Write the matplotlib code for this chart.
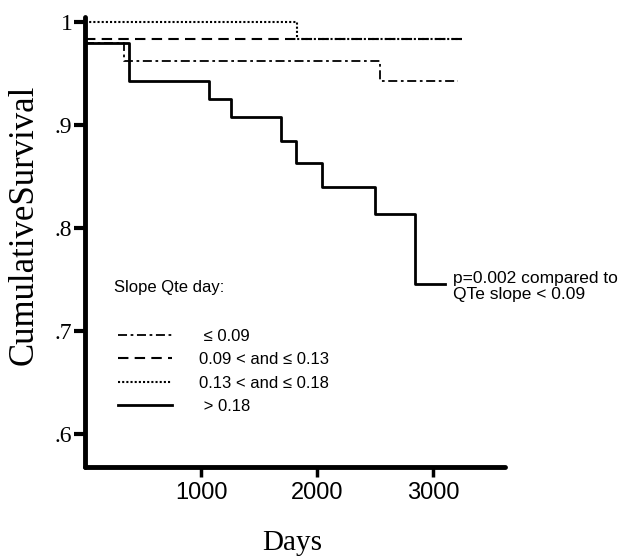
import numpy as np
import matplotlib
matplotlib.use("Agg")
import matplotlib.pyplot as plt

# Kaplan-Meier step data (days, cumulative survival)
t_le009 = [0, 339, 2545, 3215]
s_le009 = [0.980, 0.962, 0.943, 0.943]
t_009_013 = [0, 3249]
s_009_013 = [0.984, 0.984]
t_013_018 = [0, 1824, 3249]
s_013_018 = [1.0, 0.984, 0.984]
t_gt018 = [0, 382, 1069, 1258, 1687, 1815, 2047, 2502, 2845, 3103]
s_gt018 = [0.980, 0.943, 0.925, 0.908, 0.885, 0.863, 0.840, 0.814, 0.746, 0.746]

labels = [" \u2264 0.09", "0.09 < and \u2264 0.13", "0.13 < and \u2264 0.18", " > 0.18"]
xticks = [1000, 2000, 3000]
yticks = [0.6, 0.7, 0.8, 0.9, 1.0]
yticklabels = [".6", ".7", ".8", ".9", "1"]

sans = "Liberation Sans"
serif = "Liberation Serif"

fig = plt.figure(figsize=(6.22, 5.57), dpi=100)
ax = fig.add_axes([85/622, 1-467/557, 420/622, 450/557])

l1, = ax.plot(t_le009, s_le009, drawstyle="steps-post", color="black", lw=1.3,
              ls=(0, (5, 2, 1.5, 2)), label=labels[0])
l2, = ax.plot(t_009_013, s_009_013, drawstyle="steps-post", color="black", lw=1.5,
              ls=(0, (5, 3)), label=labels[1])
l3, = ax.plot(t_013_018, s_013_018, drawstyle="steps-post", color="black", lw=1.5,
              ls=(0, (1, 1)), label=labels[2])
l4, = ax.plot(t_gt018, s_gt018, drawstyle="steps-post", color="black", lw=2.0,
              label=labels[3])

ax.set_xlim(0, 3620)
ax.set_ylim(0.568, 1.005)
for s in ["top", "right"]:
    ax.spines[s].set_visible(False)
for s in ["left", "bottom"]:
    ax.spines[s].set_linewidth(3.5)
    ax.spines[s].set_capstyle("round")

ax.set_xticks(xticks)
ax.set_xticklabels([str(v) for v in xticks], fontsize=17, family=sans)
ax.set_yticks(yticks)
ax.set_yticklabels(yticklabels, fontsize=17, family=serif)
ax.tick_params(axis="x", length=7, width=2.5, direction="out", pad=4)
ax.tick_params(axis="y", length=8, width=3, direction="out", pad=1)

fig.text(24/622, 1-225/557, "CumulativeSurvival", rotation=90, ha="center", va="center",
         fontsize=25, family=serif)
fig.text(292/622, 1-543/557, "Days", ha="center", va="center", fontsize=21, family=serif)

ax.text(3170, 0.758, "p=0.002 compared to\nQTe slope < 0.09", ha="left", va="top",
        fontsize=12.5, family=sans, linespacing=1.05, clip_on=False)

ax.text(253, 0.742, "Slope Qte day:", ha="left", va="center", fontsize=12, family=sans)
leg = ax.legend(handles=[l1, l2, l3, l4], loc="upper left", bbox_to_anchor=(0.079, 0.307),
                frameon=False, prop={"family": sans, "size": 12}, handlelength=3.25,
                handletextpad=1.6, labelspacing=0.5, borderpad=0, borderaxespad=0)

fig.savefig("out.png", dpi=100)
